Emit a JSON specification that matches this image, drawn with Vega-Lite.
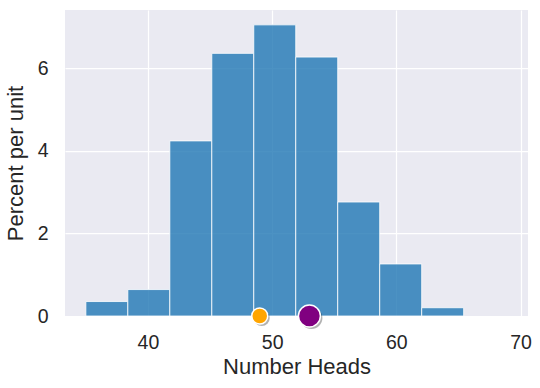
{
  "$schema": "https://vega.github.io/schema/vega-lite/v6.json",
  "width": 463,
  "height": 306,
  "autosize": "none",
  "padding": {"left": 65, "top": 10, "right": 12, "bottom": 72},
  "background": "white",
  "config": {
    "view": {"fill": "#eaeaf2", "stroke": null},
    "axis": {
      "grid": true,
      "gridColor": "white",
      "gridWidth": 1.25,
      "domain": false,
      "ticks": false,
      "labelFont": "Liberation Sans",
      "labelFontSize": 19.5,
      "labelColor": "#262626",
      "titleFont": "Liberation Sans",
      "titleFontSize": 22,
      "titleFontWeight": "normal",
      "titleColor": "#262626"
    }
  },
  "datasets": {
    "bins": [
      {"start": 35.0, "end": 38.38, "pct": 0.35},
      {"start": 38.38, "end": 41.76, "pct": 0.64},
      {"start": 41.76, "end": 45.14, "pct": 4.24},
      {"start": 45.14, "end": 48.52, "pct": 6.36},
      {"start": 48.52, "end": 51.9, "pct": 7.05},
      {"start": 51.9, "end": 55.28, "pct": 6.27},
      {"start": 55.28, "end": 58.66, "pct": 2.76},
      {"start": 58.66, "end": 62.04, "pct": 1.26},
      {"start": 62.04, "end": 65.42, "pct": 0.2}
    ],
    "points": [
      {"heads": 49, "y": 0, "name": "a", "size": 256},
      {"heads": 53, "y": 0, "name": "b", "size": 484}
    ]
  },
  "layer": [
    {
      "data": {"name": "bins"},
      "mark": {"type": "rect", "fill": "#1f77b4", "fillOpacity": 0.8, "stroke": "white", "strokeWidth": 1, "strokeOpacity": 0.8},
      "encoding": {
        "x": {"field": "start", "type": "quantitative",
              "scale": {"domain": [33.32, 70.6], "nice": false, "zero": false},
              "axis": {"values": [40, 50, 60, 70], "title": "Number Heads", "labelPadding": 17, "titlePadding": 5}},
        "x2": {"field": "end"},
        "y": {"field": "pct", "type": "quantitative",
              "scale": {"domain": [0, 7.41], "nice": false},
              "axis": {"values": [0, 2, 4, 6], "title": "Percent per unit", "labelPadding": 17, "titlePadding": 10}},
        "y2": {"datum": 0}
      }
    },
    {
      "data": {"name": "points"},
      "mark": {"type": "point", "filled": true, "fill": "#000000", "opacity": 0.3, "xOffset": 2, "yOffset": 2, "strokeWidth": 0},
      "encoding": {
        "x": {"field": "heads", "type": "quantitative"},
        "y": {"field": "y", "type": "quantitative"},
        "size": {"field": "size", "type": "quantitative", "scale": null}
      }
    },
    {
      "data": {"name": "points"},
      "mark": {"type": "point", "filled": true, "opacity": 1, "stroke": "white", "strokeWidth": 1.5},
      "encoding": {
        "x": {"field": "heads", "type": "quantitative"},
        "y": {"field": "y", "type": "quantitative"},
        "size": {"field": "size", "type": "quantitative", "scale": null},
        "fill": {"field": "name", "type": "nominal", "scale": {"domain": ["a", "b"], "range": ["#ffa500", "#800080"]}, "legend": null}
      }
    }
  ]
}
